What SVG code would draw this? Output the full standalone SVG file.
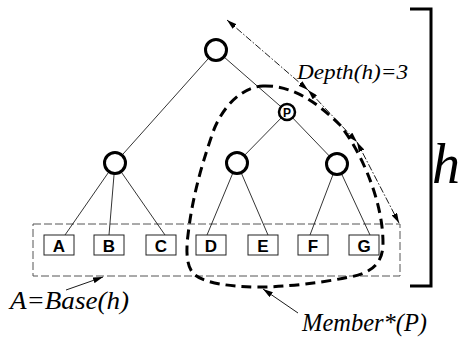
<svg xmlns="http://www.w3.org/2000/svg" width="459" height="337" viewBox="0 0 459 337">
<defs>
<style>
.edge{stroke:#000;stroke-width:0.8;fill:none}
.node{fill:#fff;stroke:#000;stroke-width:3}
.box{fill:#fff;stroke:#222;stroke-width:1}
.depth{stroke:#000;stroke-width:0.9;fill:none;stroke-dasharray:7 2 1.5 2}
.ptr{stroke:#000;stroke-width:0.9;fill:none}
</style>
<marker id="ah" viewBox="0 0 10 6" refX="10" refY="3" markerWidth="10" markerHeight="6" markerUnits="userSpaceOnUse" orient="auto-start-reverse">
<path d="M0,0 L10,3 L0,6 Z" fill="#000"/>
</marker>
</defs>
<rect width="459" height="337" fill="#fff"/>

<g id="base-region">
<rect x="33" y="224" width="367" height="52" fill="none" stroke="#555" stroke-width="1" stroke-dasharray="8 3"/>
</g>

<g id="connectors">
<line class="edge" x1="216" y1="50" x2="115" y2="163"/>
<line class="edge" x1="216" y1="50" x2="287" y2="112"/>
<line class="edge" x1="287" y1="112" x2="237" y2="163"/>
<line class="edge" x1="287" y1="112" x2="337" y2="164"/>
<line class="edge" x1="115" y1="163" x2="65" y2="235"/>
<line class="edge" x1="115" y1="163" x2="109" y2="235"/>
<line class="edge" x1="115" y1="163" x2="165" y2="235"/>
<line class="edge" x1="237" y1="163" x2="207" y2="235"/>
<line class="edge" x1="237" y1="163" x2="268" y2="235"/>
<line class="edge" x1="337" y1="164" x2="310" y2="235"/>
<line class="edge" x1="337" y1="164" x2="370" y2="235"/>
<path class="depth" d="M227,20 L308,90" marker-start="url(#ah)" marker-end="url(#ah)"/>
<path class="depth" d="M308,90 L357,142" marker-start="url(#ah)" marker-end="url(#ah)"/>
<path class="depth" d="M357,142 L399,223" marker-start="url(#ah)" marker-end="url(#ah)"/>
<line class="ptr" x1="66" y1="290" x2="103" y2="277" marker-end="url(#ah)"/>
<line class="ptr" x1="298" y1="313" x2="263" y2="289" marker-end="url(#ah)"/>
</g>

<g id="root"><circle class="node" cx="216" cy="50" r="10.5"/></g>
<g id="n-left"><circle class="node" cx="115" cy="163" r="10.5"/></g>
<g id="n-mid"><circle class="node" cx="237" cy="163" r="10.5"/></g>
<g id="n-right"><circle class="node" cx="337" cy="164" r="10.5"/></g>
<g id="P"><circle cx="287" cy="112" r="8" fill="#fff" stroke="#000" stroke-width="2.5"/>
<text x="287" y="116.5" font-family="Liberation Sans, Arial, sans-serif" font-weight="bold" font-size="12" text-anchor="middle">P</text></g>

<g id="leaves" font-family="Liberation Sans, Arial, sans-serif" font-weight="bold" font-size="17" text-anchor="middle">
<g id="A"><rect class="box" x="44" y="235" width="30" height="20"/><text x="59" y="251.5">A</text></g>
<g id="B"><rect class="box" x="94" y="235" width="30" height="20"/><text x="109" y="251.5">B</text></g>
<g id="C"><rect class="box" x="146" y="235" width="30" height="20"/><text x="161" y="251.5">C</text></g>
<g id="D"><rect class="box" x="196" y="235" width="30" height="20"/><text x="211" y="251.5">D</text></g>
<g id="E"><rect class="box" x="248" y="235" width="30" height="20"/><text x="263" y="251.5">E</text></g>
<g id="F"><rect class="box" x="298" y="235" width="30" height="20"/><text x="313" y="251.5">F</text></g>
<g id="G"><rect class="box" x="349" y="235" width="30" height="20"/><text x="364" y="251.5">G</text></g>
</g>

<g id="member-region">
<path d="M263,86 C290,85 315,100 340,125 C360,150 383,200 383,243 C383,265 370,273 350,277 C320,283 285,287 260,287 C230,287 205,283 195,275 C186,268 186,250 188,235 C192,200 200,170 212,135 C220,110 240,87 263,86 Z" fill="none" stroke="#000" stroke-width="3" stroke-dasharray="10 6"/>
</g>

<g id="bracket">
<polyline points="410,9 431,9 431,286 410,286" fill="none" stroke="#000" stroke-width="3"/>
<text x="432" y="183" font-size="56" font-family="Liberation Serif, serif" font-style="italic">h</text>
</g>

<g id="labels" font-family="Liberation Serif, serif" font-style="italic">
<text x="297" y="79" font-size="21" textLength="111" lengthAdjust="spacingAndGlyphs">Depth(h)=3</text>
<text x="10" y="309" font-size="25" textLength="119" lengthAdjust="spacingAndGlyphs">A=Base(h)</text>
<text x="302" y="331" font-size="25" textLength="125" lengthAdjust="spacingAndGlyphs">Member*(P)</text>
</g>
</svg>
